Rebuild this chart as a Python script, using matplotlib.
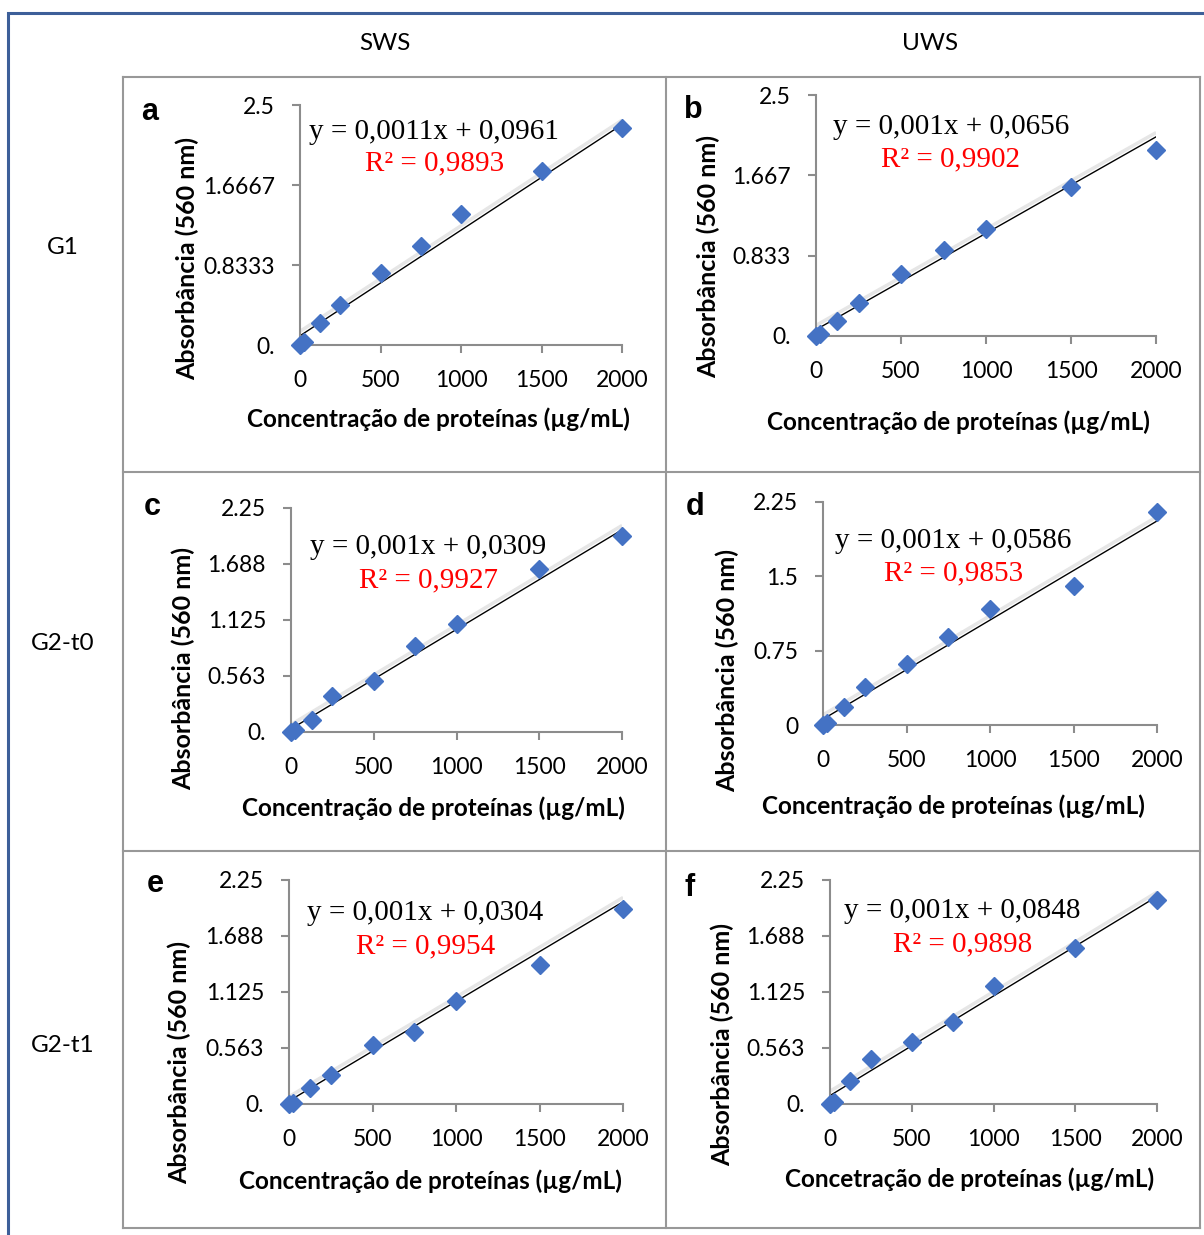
import numpy as np
import matplotlib
matplotlib.use("Agg")
import matplotlib.pyplot as plt
import matplotlib.patheffects as pe
from matplotlib.lines import Line2D
from matplotlib.patches import Rectangle

# ------------------------------------------------------------------ #
# Data                                          #
# ------------------------------------------------------------------ #

conc = [0, 25, 125, 250, 500, 750, 1000, 1500, 2000]   # µg/mL

abs_a = [0.0, 0.03, 0.23, 0.42, 0.75, 1.03, 1.36, 1.81, 2.26]
abs_b = [0.0, 0.02, 0.16, 0.345, 0.64, 0.89, 1.11, 1.545, 1.93]
abs_c = [0.0, 0.02, 0.12, 0.36, 0.51, 0.86, 1.085, 1.635, 1.97]
abs_d = [0.0, 0.02, 0.185, 0.38, 0.62, 0.89, 1.17, 1.40, 2.15]
abs_e = [0.0, 0.01, 0.16, 0.29, 0.59, 0.72, 1.03, 1.40, 1.96]
abs_f = [0.0, 0.02, 0.23, 0.45, 0.62, 0.82, 1.185, 1.565, 2.05]

slopes     = [0.0011, 0.001, 0.001, 0.001, 0.001, 0.001]
intercepts = [0.0961, 0.0656, 0.0309, 0.0586, 0.0304, 0.0848]
eq_text = ["y = 0,0011x + 0,0961", "y = 0,001x + 0,0656", "y = 0,001x + 0,0309",
           "y = 0,001x + 0,0586", "y = 0,001x + 0,0304", "y = 0,001x + 0,0848"]
r2_text = ["R² = 0,9893", "R² = 0,9902", "R² = 0,9927",
           "R² = 0,9853", "R² = 0,9954", "R² = 0,9898"]

xticks = [0, 500, 1000, 1500, 2000]
yticks_a = [0, 2.5 / 3, 5 / 3, 2.5]
ylabels_a = ["0.", "0.8333", "1.6667", "2.5"]
ylabels_b = ["0.", "0.833", "1.667", "2.5"]
yticks_c = [0, 0.5625, 1.125, 1.6875, 2.25]
ylabels_c = ["0.", "0.563", "1.125", "1.688", "2.25"]
yticks_d = [0, 0.75, 1.5, 2.25]
ylabels_d = ["0", "0.75", "1.5", "2.25"]

letters = ["a", "b", "c", "d", "e", "f"]
xlabel = "Concentração de proteínas (µg/mL)"
xlabel_f = "Concetração de proteínas (µg/mL)"
ylabel = "Absorbância (560 nm)"
col_heads = ["SWS", "UWS"]
row_heads = ["G1", "G2-t0", "G2-t1"]

# ------------------------------------------------------------------ #
# Style / layout (pixels of the 1204x1235 canvas)                     #
# ------------------------------------------------------------------ #

W, H = 1204, 1235
SANS = "Lato"
SERIF = "Liberation Serif"
BLUE = "#4472C4"
AXGRAY = "#8c8c8c"
CELLGRAY = "#989898"


def fx(x):
    return x / W


def fy(y):
    return 1 - y / H


panels = [
    # data, ymax, ticks, labels, axes box (l, r, t, b), eq pos, r2 pos, letter pos, xlab pos, ylab pos
    dict(y=abs_a, ymax=2.5, yt=yticks_a, yl=ylabels_a, box=(300, 622, 105, 345),
         eq=(309, 132), r2=(365, 163), let=(150, 112), xl=(438, 419), yl_pos=(187, 259), xlabel=xlabel),
    dict(y=abs_b, ymax=2.5, yt=yticks_a, yl=ylabels_b, box=(816, 1156, 95, 336),
         eq=(833, 127), r2=(881, 159), let=(693, 110), xl=(958, 422), yl_pos=(708, 257), xlabel=xlabel),
    dict(y=abs_c, ymax=2.25, yt=yticks_c, yl=ylabels_c, box=(291, 622, 508, 732),
         eq=(310, 547), r2=(359, 580), let=(152, 507), xl=(433, 808), yl_pos=(183, 668), xlabel=xlabel),
    dict(y=abs_d, ymax=2.25, yt=yticks_d, yl=ylabels_d, box=(823, 1157, 502, 725),
         eq=(835, 541), r2=(884, 573), let=(695, 507), xl=(953, 806), yl_pos=(727, 670), xlabel=xlabel),
    dict(y=abs_e, ymax=2.25, yt=yticks_c, yl=ylabels_c, box=(289, 623, 880, 1104),
         eq=(307, 913), r2=(356, 946), let=(155, 884), xl=(430, 1181), yl_pos=(179, 1063), xlabel=xlabel),
    dict(y=abs_f, ymax=2.25, yt=yticks_c, yl=ylabels_c, box=(830, 1157, 880, 1104),
         eq=(844, 911), r2=(893, 944), let=(690, 888), xl=(970, 1179), yl_pos=(722, 1045), xlabel=xlabel_f),
]

fig = plt.figure(figsize=(W / 100, H / 100), dpi=100)

# outer blue frame
fig.add_artist(Rectangle((fx(8), fy(1300)), fx(1300), (1300 - 13) / H, transform=fig.transFigure,
                         fill=False, edgecolor="#3d5f99", linewidth=2.2))

# table grid
for yy in [77, 472, 851, 1228]:
    fig.add_artist(Line2D([fx(123), fx(1200)], [fy(yy), fy(yy)], color=CELLGRAY, lw=1.5))
for xx in [123, 666, 1200]:
    fig.add_artist(Line2D([fx(xx), fx(xx)], [fy(77), fy(1228)], color=CELLGRAY, lw=1.5))

# headers
for txt, xx in zip(col_heads, [385, 930]):
    fig.text(fx(xx), fy(43), txt, ha="center", va="center", fontsize=17.5, family=SANS)
for txt, yy in zip(row_heads, [248, 643, 1045]):
    fig.text(fx(63), fy(yy), txt, ha="center", va="center", fontsize=17.5, family=SANS)

for i, p in enumerate(panels):
    l, r, t, b = p["box"]
    ax = fig.add_axes([fx(l), fy(b), fx(r - l), (b - t) / H])
    ax.set_xlim(0, 2000)
    ax.set_ylim(0, p["ymax"])
    for side in ["top", "right"]:
        ax.spines[side].set_visible(False)
    for side in ["left", "bottom"]:
        ax.spines[side].set_color(AXGRAY)
        ax.spines[side].set_linewidth(1.5)
    ax.set_xticks(xticks)
    ax.set_xticklabels([str(v) for v in xticks])
    ax.set_yticks(p["yt"])
    ax.set_yticklabels(p["yl"])
    ax.tick_params(direction="out", length=6, width=1.5, color=AXGRAY, pad=12,
                   labelsize=16.5)
    for lab in ax.get_xticklabels() + ax.get_yticklabels():
        lab.set_family(SANS)
    ax.patch.set_alpha(0)

    # linear trendline (from the equation shown), with Excel-like soft shadow
    xs = np.array([0, 2000])
    ax.plot(xs, slopes[i] * xs + intercepts[i], color="black", lw=1.0, zorder=2,
            path_effects=[pe.SimpleLineShadow(offset=(-1, 2.5), shadow_color="#e6e6e6",
                                              alpha=1, linewidth=2.5),
                          pe.Normal()])
    ax.plot(conc, p["y"], linestyle="none", marker="D", markersize=9,
            color=BLUE, zorder=3, clip_on=False)

    fig.text(fx(p["eq"][0]), fy(p["eq"][1]), eq_text[i], ha="left", va="center",
             fontsize=21, family=SERIF, color="black")
    fig.text(fx(p["r2"][0]), fy(p["r2"][1]), r2_text[i], ha="left", va="center",
             fontsize=21, family=SERIF, color="red")
    fig.text(fx(p["let"][0]), fy(p["let"][1]), letters[i], ha="center", va="center",
             fontsize=22, family="Liberation Sans", fontweight="bold")
    fig.text(fx(p["xl"][0]), fy(p["xl"][1]), p["xlabel"], ha="center", va="center",
             fontsize=17.5, family=SANS, fontweight="bold")
    fig.text(fx(p["yl_pos"][0]), fy(p["yl_pos"][1]), ylabel, ha="center", va="center",
             rotation=90, fontsize=18, family=SANS, fontweight="bold")

fig.savefig("out.png", dpi=100)
plt.close(fig)
